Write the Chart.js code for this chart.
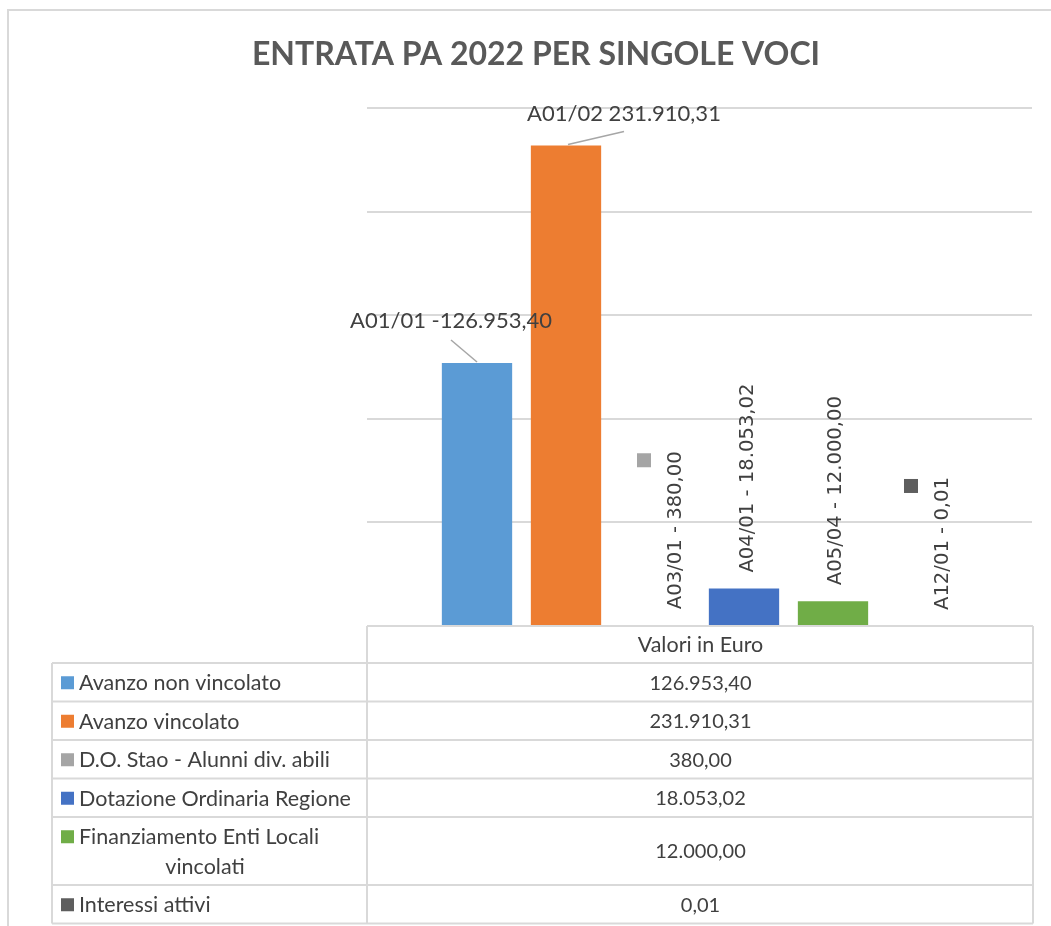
<!DOCTYPE html>
<html>
<head>
<meta charset="utf-8">
<script src="https://cdn.jsdelivr.net/npm/chart.js@4/dist/chart.umd.min.js"></script>
<style>
  body { margin: 0; background: #fff; }
  canvas { display: block; }
</style>
</head>
<body>
<canvas id="chart" width="1051" height="926"></canvas>
<script>
// Chart data
const categories = ['Valori in Euro'];
const seriesNames = [
  'Avanzo non vincolato',
  'Avanzo vincolato',
  'D.O. Stao - Alunni div. abili',
  'Dotazione Ordinaria Regione',
  'Finanziamento Enti Locali vincolati',
  'Interessi attivi'
];
const seriesCodes = ['A01/01', 'A01/02', 'A03/01', 'A04/01', 'A05/04', 'A12/01'];
const labelSeparators = [' -', ' ', ' - ', ' - ', ' - ', ' - '];
const seriesValues = [126953.40, 231910.31, 380.00, 18053.02, 12000.00, 0.01];
const yTicks = [0, 50000, 100000, 150000, 200000, 250000];

const colors = ['#5B9BD5', '#ED7D31', '#A5A5A5', '#4472C4', '#70AD47', '#5E5E5E'];
const textColor = '#404040';
const lineColor = '#D9D9D9';
const labelFont = 'Lato, "Liberation Sans", sans-serif';

function fmt(v) {
  return v.toLocaleString('it-IT', { minimumFractionDigits: 2, maximumFractionDigits: 2 });
}

// Label placement relative to each bar top
const labelStyle = [
  { type: 'leader', dx: -26, dy: -42, from: [-26, -23], to: [0, -1] },
  { type: 'leader', dx: 58, dy: -32, from: [2, -1], to: [58, -14] },
  { type: 'rotated', dx: 21, dy: -16, key: true },
  { type: 'rotated', dx: 4, dy: -16 },
  { type: 'rotated', dx: 3, dy: -16 },
  { type: 'rotated', dx: 21, dy: -16, key: true }
];

const decorations = {
  id: 'decorations',
  beforeDraw(chart) {
    const ctx = chart.ctx;
    ctx.save();
    ctx.fillStyle = '#fff';
    ctx.fillRect(0, 0, chart.width, chart.height);
    // outer frame
    ctx.strokeStyle = lineColor;
    ctx.lineWidth = 2;
    ctx.beginPath();
    ctx.moveTo(8, chart.height);
    ctx.lineTo(8, 10);
    ctx.lineTo(chart.width, 10);
    ctx.stroke();
    // title
    ctx.fillStyle = '#595959';
    ctx.font = 'bold 32px ' + labelFont;
    ctx.textAlign = 'center';
    ctx.textBaseline = 'middle';
    ctx.fillText('ENTRATA PA 2022 PER SINGOLE VOCI', 536, 55);
    ctx.restore();
  },
  afterDatasetsDraw(chart) {
    const ctx = chart.ctx;
    ctx.save();
    chart.data.datasets.forEach((ds, i) => {
      const bar = chart.getDatasetMeta(i).data[0];
      const st = labelStyle[i];
      const text = seriesCodes[i] + labelSeparators[i] + fmt(seriesValues[i]);
      ctx.fillStyle = textColor;
      if (st.type === 'leader') {
        ctx.strokeStyle = '#A6A6A6';
        ctx.lineWidth = 1.5;
        ctx.beginPath();
        ctx.moveTo(bar.x + st.from[0], bar.y + st.from[1]);
        ctx.lineTo(bar.x + st.to[0], bar.y + st.to[1]);
        ctx.stroke();
        ctx.font = '22px ' + labelFont;
        ctx.textAlign = 'center';
        ctx.textBaseline = 'middle';
        ctx.fillText(text, bar.x + st.dx, bar.y + st.dy);
      } else {
        ctx.font = '19.6px "DejaVu Sans", sans-serif';
        const w = ctx.measureText(text).width;
        const tx = bar.x + st.dx;
        const ty = bar.y + st.dy;
        ctx.save();
        ctx.translate(tx, ty);
        ctx.rotate(-Math.PI / 2);
        ctx.textAlign = 'left';
        ctx.textBaseline = 'middle';
        ctx.fillText(text, 0, 0);
        ctx.restore();
        if (st.key) {
          ctx.fillStyle = colors[i];
          ctx.fillRect(tx - 39, ty - w + 2, 14, 14);
        }
      }
    });
    ctx.restore();
  },
  afterDraw(chart) {
    const ctx = chart.ctx;
    const a = chart.chartArea;
    const left = 52;
    const right = a.right + 1;
    const headerBottom = a.bottom + 37;
    ctx.save();
    ctx.font = '21.5px ' + labelFont;
    ctx.textBaseline = 'middle';

    // wrap series names
    const maxW = 290;
    const rows = seriesNames.map(name => {
      const words = name.split(' ');
      const lines = [];
      let cur = '';
      words.forEach(w => {
        const t = cur ? cur + ' ' + w : w;
        if (ctx.measureText(t).width > maxW && cur) { lines.push(cur); cur = w; }
        else cur = t;
      });
      lines.push(cur);
      return lines;
    });

    const ys = [headerBottom];
    rows.forEach(lines => ys.push(ys[ys.length - 1] + 38.5 + (lines.length - 1) * 29.5));

    ctx.strokeStyle = lineColor;
    ctx.lineWidth = 2;
    ctx.beginPath();
    ctx.moveTo(a.left, a.bottom); ctx.lineTo(right, a.bottom);
    ys.forEach(y => { ctx.moveTo(left, y); ctx.lineTo(right, y); });
    ctx.moveTo(left, headerBottom); ctx.lineTo(left, ys[ys.length - 1]);
    ctx.moveTo(a.left, a.bottom); ctx.lineTo(a.left, ys[ys.length - 1]);
    ctx.moveTo(right, a.bottom); ctx.lineTo(right, ys[ys.length - 1]);
    ctx.stroke();

    const cx = (a.left + a.right) / 2;
    ctx.fillStyle = textColor;
    ctx.textAlign = 'center';
    ctx.fillText(categories[0], cx + 1, (a.bottom + headerBottom) / 2 + 1);

    rows.forEach((lines, i) => {
      const top = ys[i], bottom = ys[i + 1];
      const mid = (top + bottom) / 2 + 1;
      const firstY = mid - (lines.length - 1) * 29.5 / 2;
      ctx.fillStyle = colors[i];
      ctx.fillRect(61, firstY - 7, 13, 13);
      ctx.fillStyle = textColor;
      ctx.font = '21.5px ' + labelFont;
      lines.forEach((ln, k) => {
        if (k === 0) {
          ctx.textAlign = 'left';
          ctx.fillText(ln, 79, firstY);
        } else {
          ctx.textAlign = 'center';
          ctx.fillText(ln, 205, firstY + k * 29.5);
        }
      });
      ctx.textAlign = 'center';
      ctx.font = '20px ' + labelFont;
      ctx.fillText(fmt(chart.data.datasets[i].data[0]), cx + 1, mid);
    });
    ctx.restore();
  }
};

const ctx = document.getElementById('chart').getContext('2d');
new Chart(ctx, {
  type: 'bar',
  data: {
    labels: categories,
    datasets: seriesNames.map((name, i) => ({
      label: name,
      data: [seriesValues[i]],
      backgroundColor: colors[i],
      borderWidth: 0
    }))
  },
  options: {
    responsive: false,
    devicePixelRatio: 1,
    animation: false,
    categoryPercentage: 0.803,
    barPercentage: 0.79,
    layout: { padding: { left: 367, right: 19, top: 108, bottom: 300 } },
    plugins: {
      legend: { display: false },
      title: { display: false },
      tooltip: { enabled: false }
    },
    scales: {
      x: { display: false },
      y: {
        min: yTicks[0],
        max: yTicks[yTicks.length - 1],
        afterBuildTicks: s => { s.ticks = yTicks.map(v => ({ value: v })); },
        afterFit: s => { s.width = 0; },
        ticks: { display: false },
        border: { display: false },
        grid: { color: lineColor, lineWidth: 2, drawTicks: false }
      }
    }
  },
  plugins: [decorations]
});
</script>
</body>
</html>
